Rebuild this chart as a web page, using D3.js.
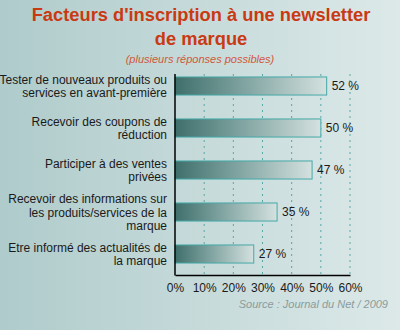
<!DOCTYPE html>
<html>
<head>
<meta charset="utf-8">
<script src="https://cdn.jsdelivr.net/npm/d3@7"></script>
<style>
  html, body { margin: 0; padding: 0; }
  svg { display: block; }
</style>
</head>
<body>
<svg id="chart" width="400" height="330"></svg>
<script>
// Survey answers (multiple answers allowed)
const categories = [
  ["Tester de nouveaux produits ou", "services en avant-première"],
  ["Recevoir des coupons de", "réduction"],
  ["Participer à des ventes", "privées"],
  ["Recevoir des informations sur", "les produits/services de la", "marque"],
  ["Etre informé des actualités de", "la marque"]
];
const values = [52, 50, 47, 35, 27];
const tickValues = [0, 10, 20, 30, 40, 50, 60];
const titleLines = ["Facteurs d'inscription à une newsletter", "de marque"];
const subtitle = "(plusieurs réponses possibles)";
const source = "Source : Journal du Net / 2009";

const svg = d3.select("#chart");
const W = 400, H = 330;
const font = "Arial, 'Liberation Sans', sans-serif";

const defs = svg.append("defs");
const bg = defs.append("linearGradient").attr("id", "bg")
  .attr("x1", "0%").attr("y1", "0%").attr("x2", "100%").attr("y2", "0%");
bg.append("stop").attr("offset", "0%").attr("stop-color", "#afcbcb");
bg.append("stop").attr("offset", "100%").attr("stop-color", "#dde9e9");

const barGrad = defs.append("linearGradient").attr("id", "barGrad")
  .attr("x1", "0%").attr("y1", "0%").attr("x2", "100%").attr("y2", "0%");
barGrad.append("stop").attr("offset", "0%").attr("stop-color", "#3f6f6b");
barGrad.append("stop").attr("offset", "45%").attr("stop-color", "#7fa3a0");
barGrad.append("stop").attr("offset", "100%").attr("stop-color", "#d4e1df");

svg.append("rect").attr("width", W).attr("height", H).attr("fill", "url(#bg)");

// Titles
const title = svg.append("text").attr("text-anchor", "middle")
  .attr("font-family", font).attr("font-weight", "bold").attr("font-size", 18.3)
  .attr("fill", "#c93a12");
titleLines.forEach((t, i) => {
  title.append("tspan").attr("x", 201).attr("y", 21 + i * 24).text(t);
});
svg.append("text").attr("x", 200).attr("y", 63).attr("text-anchor", "middle")
  .attr("font-family", font).attr("font-style", "italic").attr("font-size", 11)
  .attr("fill", "#d0583a").text(subtitle);

// Scales
const x = d3.scaleLinear().domain([0, 60]).range([175, 350]);
const y = d3.scaleBand().domain(d3.range(categories.length)).range([65, 275]).paddingInner(0.57).paddingOuter(0.285);

// Grid lines
svg.append("g").selectAll("line").data(tickValues.slice(1)).join("line")
  .attr("x1", d => x(d)).attr("x2", d => x(d))
  .attr("y1", 74).attr("y2", 275)
  .attr("stroke", "#5aa8a6").attr("stroke-width", 1)
  .attr("stroke-dasharray", "2,4");

// Bars
svg.append("g").selectAll("rect").data(values).join("rect")
  .attr("x", x(0)).attr("y", (d, i) => y(i))
  .attr("width", d => x(d) - x(0)).attr("height", y.bandwidth())
  .attr("fill", "url(#barGrad)")
  .attr("stroke", "#45a9a8").attr("stroke-width", 1);

// Value labels
svg.append("g").selectAll("text").data(values).join("text")
  .attr("x", d => x(d) + 5).attr("y", (d, i) => y(i) + y.bandwidth() / 2 + 4)
  .attr("font-family", font).attr("font-size", 12).attr("fill", "#1a1a1a")
  .text(d => d + " %");

// Category labels
const cats = svg.append("g");
categories.forEach((lines, i) => {
  const cy = y(i) + y.bandwidth() / 2;
  const lh = 13.5;
  const top = cy - (lines.length - 1) * lh / 2 + 4.5;
  const t = cats.append("text").attr("text-anchor", "end")
    .attr("font-family", font).attr("font-size", 12).attr("fill", "#1a1a1a");
  lines.forEach((l, j) => {
    t.append("tspan").attr("x", 167).attr("y", top + j * lh).text(l);
  });
});

// Axes
const xAxis = d3.axisBottom(x).tickValues(tickValues).tickFormat(d => d + "%").tickSize(0).tickPadding(8);
const gx = svg.append("g").attr("transform", "translate(0,275)").call(xAxis);
gx.select(".domain").attr("stroke", "#000").attr("stroke-width", 1.5);
gx.selectAll("text").attr("font-family", font).attr("font-size", 12).attr("fill", "#1a1a1a");

svg.append("line").attr("x1", 175).attr("x2", 175).attr("y1", 74).attr("y2", 275.5)
  .attr("stroke", "#000").attr("stroke-width", 1.5);

// Source
svg.append("text").attr("x", 388).attr("y", 308).attr("text-anchor", "end")
  .attr("font-family", font).attr("font-style", "italic").attr("font-size", 11)
  .attr("fill", "#8a9c9c").text(source);
</script>
</body>
</html>
